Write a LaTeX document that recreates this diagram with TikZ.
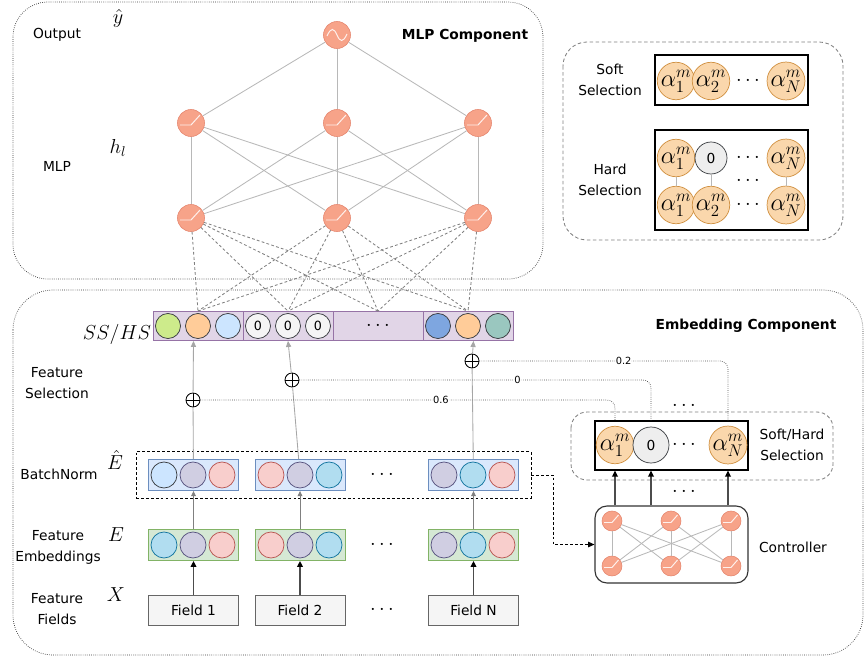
\documentclass[tikz,border=0pt]{standalone}
\usepackage{fontspec}
\setmainfont{DejaVu Sans}
\usetikzlibrary{positioning,fit,arrows.meta}
\definecolor{neuF}{HTML}{F7A389}
\definecolor{neuD}{HTML}{E5846C}
\definecolor{cyanF}{HTML}{B1DDF0}
\definecolor{cyanD}{HTML}{10739E}
\definecolor{purpF}{HTML}{D0CEE2}
\definecolor{purpD}{HTML}{56517E}
\definecolor{pinkF}{HTML}{F8CECC}
\definecolor{pinkD}{HTML}{B85450}
\definecolor{lbluF}{HTML}{CCE5FF}
\definecolor{darkD}{HTML}{36393D}
\definecolor{bnF}{HTML}{DAE8FC}
\definecolor{bnD}{HTML}{6C8EBF}
\definecolor{embF}{HTML}{D5E8D4}
\definecolor{embD}{HTML}{82B366}
\definecolor{fieldF}{HTML}{F5F5F5}
\definecolor{fieldD}{HTML}{666666}
\definecolor{ssF}{HTML}{E1D5E7}
\definecolor{ssD}{HTML}{9673A6}
\definecolor{greenF}{HTML}{CDEB8B}
\definecolor{orangeF}{HTML}{FFCC99}
\definecolor{blueF}{HTML}{7EA6E0}
\definecolor{tealF}{HTML}{9AC7BF}
\definecolor{alphaF}{HTML}{FAD7AC}
\definecolor{alphaD}{HTML}{D09040}
\definecolor{zeroF}{HTML}{EEEEEE}
\definecolor{lineG}{HTML}{B8B8B8}
\tikzset{
	neuron/.style={circle,draw=neuD,fill=neuF,minimum size=0.675cm,inner sep=0},
	sneuron/.style={neuron,minimum size=0.5cm},
	act/.style={draw=white!85!neuF,line width=0.7pt},
	ball/.style={circle,draw=darkD,line width=0.5pt,minimum size=0.65cm,inner sep=0},
	alpha/.style={circle,draw=alphaD,fill=alphaF,line width=0.5pt,minimum size=0.8cm,inner sep=0,font=\fontsize{17}{17}\selectfont},
	zero/.style={circle,draw=darkD,fill=zeroF,line width=0.5pt,minimum size=0.8cm,inner sep=0},
	grp/.style={rectangle,line width=0.6pt,minimum width=2.25cm,minimum height=0.775cm,inner sep=0},
	bngrp/.style={grp,draw=bnD,fill=bnF},
	embgrp/.style={grp,draw=embD,fill=embF},
	fieldbox/.style={grp,draw=fieldD,fill=fieldF,minimum height=0.75cm},
	ssbox/.style={rectangle,draw=ssD,fill=ssF,line width=0.6pt,minimum width=2.25cm,minimum height=0.725cm,inner sep=0},
	selrect/.style={rectangle,draw=black,line width=0.8pt,minimum width=3.825cm,inner sep=0},
	oplus/.style={circle,draw,line width=0.6pt,minimum size=0.35cm,inner sep=0,
		path picture={\draw[line width=0.6pt] (path picture bounding box.north)--(path picture bounding box.south)
		(path picture bounding box.west)--(path picture bounding box.east);}},
	dots/.style={font=\fontsize{14}{14}\selectfont},
	gline/.style={draw=lineG,line width=0.6pt},
	dline/.style={draw=gray,line width=0.6pt,dash pattern=on 2pt off 1.6pt},
	dotline/.style={draw=black!70,line width=0.5pt,densely dotted,rounded corners=0.2cm},
	compbox/.style={draw=black!80,line width=0.5pt,densely dotted},
	selbox/.style={draw=gray,line width=0.6pt,dash pattern=on 2.5pt off 1.8pt},
	garrow/.style={draw=black!35,line width=0.6pt,-{Triangle[length=1.5mm,width=1.3mm]}},
	earrow/.style={draw=black!50,line width=0.7pt,-{Triangle[length=1.3mm,width=1.2mm]}},
	karrow/.style={draw=black!70,line width=1.1pt,-{Triangle[length=1.5mm,width=1.4mm,color=black]}},
	kdash/.style={draw=black,line width=0.6pt,dash pattern=on 2pt off 1.5pt,-{Triangle[length=1.6mm,width=1.4mm]}},
	wlbl/.style={fill=white,inner sep=0.8pt,font=\fontsize{7}{8}\selectfont},
	mth/.style={font=\fontsize{14}{14}\selectfont},
	title/.style={font=\fontsize{9.8}{12}\selectfont\bfseries},
}
\begin{document}
	\begin{tikzpicture}[x=0.025cm,y=-0.025cm,font=\fontsize{9.8}{15}\selectfont]
		\useasboundingbox (0,0) rectangle (864,657);
		\draw[compbox][rounded corners=0.875cm](13,2) rectangle (543,279);
		\draw[compbox][rounded corners=1cm](13,290) rectangle (863,655);
		
		\node[title] (tmlpc) at (465,36) {MLP Component};
		\node[title] (tembc) at (746,326) {Embedding Component};
		\node (tout) at (57,35) {Output};
		\node (tmlp) at (57,166) {MLP};
		\node[mth] (tyhat) at (118,18) {$\hat{y}$};
		\node[mth] (thl) at (118,148) {$h_l$};
		\node[mth] (tss) at (117,334) {$SS/HS$};
		\node[align=center] (tfs) at (57,383) {Feature\\Selection};
		\node[mth] (tehat) at (115,460) {$\hat{E}$};
		\node (tbn) at (59,474) {BatchNorm};
		\node[mth] (te) at (116,535) {$E$};
		\node[align=center] (tfe) at (58,547) {Feature\\Embeddings};
		\node[mth] (tx) at (116,595) {$X$};
		\node[align=center] (tff) at (57,609) {Feature\\Fields};
		
		\node[neuron] (o) at (337,35) {};
		\node[neuron] (h1) at (191,123) {};
		\node[neuron] (h2) at (337,123) {};
		\node[neuron] (h3) at (478,123) {};
		\node[neuron] (g1) at (191,218) {};
		\node[neuron] (g2) at (337,218) {};
		\node[neuron] (g3) at (478,218) {};
		\foreach \a in {h1,h2,h3} \draw[gline] (o) -- (\a);
		\foreach \a in {h1,h2,h3} \foreach \b in {g1,g2,g3} \draw[gline] (\a) -- (\b);
		\draw[act,shift={(o.center)}] (-10,1) .. controls (-6,-8) and (-3,-7) .. (0,0)
		.. controls (3,7) and (6,8) .. (10,-1);
		\foreach \n in {h1,h2,h3,g1,g2,g3} \draw[act] ([shift={(-11,2)}]\n.center) -- ++(11,0) -- ++(9,-10);
		
		\node[ssbox] (ss1) at (198,326) {};
		\node[ssbox] (ss2) at (288,326) {};
		\node[ssbox] (ss3) at (378,326) {};
		\node[ssbox] (ss4) at (468,326) {};
		\foreach \x/\c in {168/greenF,198/orangeF,228/lbluF,438/blueF,468/orangeF,498/tealF}
		\node[ball,fill=\c,minimum size=0.625cm] (s\x) at (\x,326) {};
		\foreach \x in {258,288,318} \node[ball,fill=fieldF,minimum size=0.625cm] (z\x) at (\x,326) {\small 0};
		\node[dots] (ssdots) at (378,326) {$\cdots$};
		\foreach \a in {g1,g2,g3} \foreach \b in {ss1,ss2,ss3,ss4} \draw[dline] (\a) -- (\b.north);
		
		\node[fieldbox] (f1) at (193.5,610) {Field 1};
		\node[fieldbox] (f2) at (300,610) {Field 2};
		\node[fieldbox] (fN) at (473.5,610) {Field N};
		\node[embgrp] (e1) at (193.5,545) {};
		\node[embgrp] (e2) at (300,545) {};
		\node[embgrp] (eN) at (473.5,545) {};
		\node[bngrp] (b1) at (193.5,475) {};
		\node[bngrp] (b2) at (300,475) {};
		\node[bngrp] (bN) at (473.5,475) {};
		\foreach \x/\c/\d in {164/cyan/cyan,193/purp/purp,222/pink/pink,271/pink/pink,300/purp/purp,329/cyan/cyan,444/purp/purp,473/cyan/cyan,502/pink/pink}
		\node[ball,fill=\c F,draw=\d D] (em\x) at (\x,545) {};
		\foreach \x/\c/\d in {164/lblu/dark,193/purp/purp,222/pink/pink,271/pink/pink,300/purp/purp,329/cyan/cyan,444/purp/purp,473/cyan/cyan,502/pink/pink}
		\node[ball,fill=\c F,draw=\d D] (bn\x) at (\x,475) {};
		\node[dots] (fdots) at (382,610) {$\cdots$};
		\node[dots] (edots) at (382,545) {$\cdots$};
		\node[dots] (bdots) at (382,475) {$\cdots$};
		\node[draw,line width=0.6pt,dash pattern=on 2pt off 1.5pt,fit=(b1)(bN),inner xsep=0.3cm,inner ysep=0.18cm] (bnb) {};
		
		\draw[karrow] (f1) -- (e1);
		\draw[karrow] (f2) -- (e2);
		\draw[karrow] (fN) -- (eN);
		\draw[earrow] (e1) -- (b1);
		\draw[earrow] (e2) -- (b2);
		\draw[earrow] (eN) -- (bN);
		
		\node[oplus] (p1) at (193,400) {};
		\node[oplus] (p2) at (292,380) {};
		\node[oplus] (p3) at (472,361) {};
		\draw[garrow] (b1) -- (p1) -- (b1 |- ss1.south);
		\draw[garrow] (b2) -- (p2) -- (ss2.south);
		\draw[garrow] (bN) -- (p3) -- (bN |- ss4.south);
		
		\draw[selbox][rounded corners=0.4cm](571,412) rectangle (833,480);
		\node[selrect,minimum height=1.225cm] (shr) at (671.5,445.5) {};
		\node[alpha] (a1) at (615,445) {$\alpha_1^m$};
		\node[zero,minimum size=0.9cm] (a0) at (651,445) {0};
		\node[dots] (adots) at (684,445) {$\cdots$};
		\node[alpha] (aN) at (728,445) {$\alpha_N^m$};
		\node[align=center] (tsh) at (792,445) {Soft/Hard\\Selection};
		\node[dots] (topdots) at (684,406) {$\cdots$};
		\draw[dotline] (p1) -| (a1 |- shr.north) node[pos=0.29,wlbl] {0.6};
		\draw[dotline] (p2) -| (a0 |- shr.north) node[pos=0.31,wlbl] {0};
		\draw[dotline] (p3) -| (aN |- shr.north) node[pos=0.29,wlbl] {0.2};
		
		\node[draw=black!80,line width=0.8pt,rounded corners=0.3cm,minimum width=3.825cm,minimum height=1.925cm] (ctrl) at (671.5,544.5) {};
		\node[sneuron] (c1) at (612,521) {};
		\node[sneuron] (c2) at (671,521) {};
		\node[sneuron] (c3) at (731,521) {};
		\node[sneuron] (d1) at (612,566) {};
		\node[sneuron] (d2) at (671,566) {};
		\node[sneuron] (d3) at (731,566) {};
		\foreach \a in {c1,c2,c3} \foreach \b in {d1,d2,d3} \draw[gline] (\a) -- (\b);
		\foreach \n in {c1,c2,c3,d1,d2,d3} \draw[act] ([shift={(-8,1.5)}]\n.center) -- ++(8,0) -- ++(6.5,-7.5);
		\node (tctrl) at (793,547) {Controller};
		\draw[karrow] (a1 |- ctrl.north) -- (a1 |- shr.south);
		\draw[karrow] (a0 |- ctrl.north) -- (a0 |- shr.south);
		\draw[karrow] (aN |- ctrl.north) -- (aN |- shr.south);
		\node[dots] (cdots) at (684,492) {$\cdots$};
		\draw[kdash] (bnb.east) -- ++(22,0) |- (ctrl.west);
		
		\draw[selbox][rounded corners=0.6cm](563,42) rectangle (843,240);
		\node[align=center] (tsoft) at (610,80) {Soft\\Selection};
		\node[align=center] (thard) at (610,180) {Hard\\Selection};
		\node[selrect,minimum height=1.25cm] (soft) at (731.5,80) {};
		\node[selrect,minimum height=2.5cm] (hard) at (731.5,180) {};
		\node[alpha] (sa1) at (676,81) {$\alpha_1^m$};
		\node[alpha] (sa2) at (711,81) {$\alpha_2^m$};
		\node[dots] (sdots) at (748,81) {$\cdots$};
		\node[alpha] (saN) at (786,81) {$\alpha_N^m$};
		\node[alpha] (ha1) at (676,158) {$\alpha_1^m$};
		\node[zero] (ha0) at (711,158) {0};
		\node[dots] (hdots1) at (748,158) {$\cdots$};
		\node[alpha] (haN) at (786,158) {$\alpha_N^m$};
		\node[dots] (hdots2) at (748,181) {$\cdots$};
		\node[alpha] (hb1) at (676,205) {$\alpha_1^m$};
		\node[alpha] (hb2) at (711,205) {$\alpha_2^m$};
		\node[dots] (hdots3) at (748,205) {$\cdots$};
		\node[alpha] (hbN) at (786,205) {$\alpha_N^m$};
		\draw[gline] (ha1) -- (hb1);
		\draw[gline] (ha0) -- (hb2);
		\draw[gline] (haN) -- (hbN);
	\end{tikzpicture}
\end{document}
